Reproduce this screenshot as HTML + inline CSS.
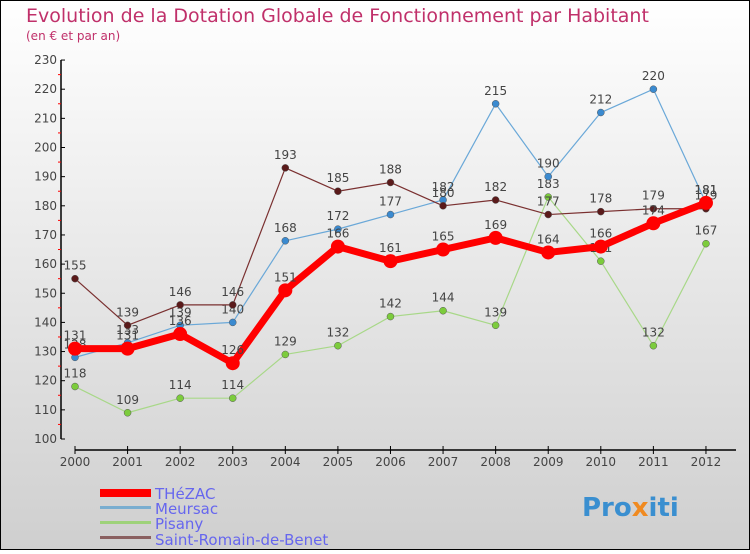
<!DOCTYPE html>
<html><head><meta charset="utf-8"><style>
body{margin:0}
#c{width:750px;height:550px;position:relative;font-family:"DejaVu Sans","Liberation Sans",sans-serif}
</style></head><body>
<div id="c">
<svg id="s" width="750" height="550" xmlns="http://www.w3.org/2000/svg">
<defs><linearGradient id="bg" x1="0" y1="0" x2="0" y2="1"><stop offset="0" stop-color="#ffffff"/><stop offset="1" stop-color="#cfcfcf"/></linearGradient></defs>
<rect x="0.5" y="0.5" width="749" height="549" fill="url(#bg)" stroke="#000"/>
<text x="26" y="22" font-size="19" fill="#c0306a">Evolution de la Dotation Globale de Fonctionnement par Habitant</text>
<text x="26" y="40" font-size="12" fill="#c0306a">(en € et par an)</text>
<g id="axes"></g><g id="series"></g>
<g>
<rect x="100" y="489" width="51" height="8" fill="#f00"/>
<text x="155" y="499" font-size="15" fill="#6666ee">THéZAC</text>
<rect x="100" y="506" width="51" height="3" fill="#7aaed0"/>
<text x="155" y="514" font-size="15" fill="#6666ee">Meursac</text>
<rect x="100" y="521" width="51" height="3" fill="#9ed27a"/>
<text x="155" y="529" font-size="15" fill="#6666ee">Pisany</text>
<rect x="100" y="536" width="51" height="3" fill="#8a6060"/>
<text x="155" y="545" font-size="15" fill="#6666ee">Saint-Romain-de-Benet</text>
</g>
<text x="582" y="516" font-size="26" font-weight="bold" fill="#3a8fd0">Pro<tspan fill="#f08a20">x</tspan>iti</text>
</svg></div>
<script>
const years=["2000","2001","2002","2003","2004","2005","2006","2007","2008","2009","2010","2011","2012"];
const yTicks=[100,110,120,130,140,150,160,170,180,190,200,210,220,230];
const thezac=[131,131,136,126,151,166,161,165,169,164,166,174,181];
const meursac=[128,133,139,140,168,172,177,182,215,190,212,220,181];
const pisany=[118,109,114,114,129,132,142,144,139,183,161,132,167];
const stromain=[155,139,146,146,193,185,188,180,182,177,178,179,179];
const NS="http://www.w3.org/2000/svg";
function X(i){return 75+i*52.58;}
function Y(v){return 439-(v-100)*2.915;}
function mk(t,a,p){const e=document.createElementNS(NS,t);for(const k in a)e.setAttribute(k,a[k]);p.appendChild(e);return e;}
const ax=document.getElementById('axes');
let e=mk('line',{x1:61,y1:Y(230),x2:61,y2:Y(100),stroke:'#000','stroke-width':1.5},ax);

yTicks.forEach(v=>{
 let t=mk('line',{x1:61,y1:Y(v),x2:65,y2:Y(v),stroke:'#000'},ax);
 
 if(v<230){let m=mk('line',{x1:58,y1:Y(v+5),x2:61,y2:Y(v+5),stroke:'#f00'},ax);
 }
 let l=mk('text',{x:57,y:Y(v)+4,'font-size':12,'text-anchor':'end',fill:'#444'},ax);l.textContent=v;
 
});
e=mk('line',{x1:X(0),y1:450,x2:736,y2:450,stroke:'#000','stroke-width':1.5},ax);

years.forEach((y,i)=>{
 let t=mk('line',{x1:X(i),y1:446,x2:X(i),y2:454,stroke:'#000'},ax);
 
 let l=mk('text',{x:X(i),y:466,'font-size':12,'text-anchor':'middle',fill:'#444'},ax);l.textContent=y;
 
});
const sg=document.getElementById('series');
function series(name,data,color,dot,w,r){
 const g=mk('g',{},sg);
 let p=mk('polyline',{points:data.map((v,i)=>X(i)+','+Y(v)).join(' '),fill:'none',stroke:color,'stroke-width':w,'stroke-linejoin':'round'},g);
 
 data.forEach((v,i)=>{
  let c=mk('circle',{cx:X(i),cy:Y(v),r:r,fill:dot,stroke:dot==='#f00'?'none':'#555','stroke-width':0.5},g);
  
  let l=mk('text',{x:X(i),y:Y(v)-9,'font-size':12,'text-anchor':'middle',fill:'#444'},g);l.textContent=v;
  
 });
}
series('pisany',pisany,'#a8d888','#7ccc3c',1.2,3.5);
series('meursac',meursac,'#6aa8d8','#3a8ad0',1.2,3.5);
series('saint-romain',stromain,'#7a3030','#5a1a1a',1.2,3.5);
series('thezac',thezac,'#f00','#f00',7,7);
</script>
</body></html>
